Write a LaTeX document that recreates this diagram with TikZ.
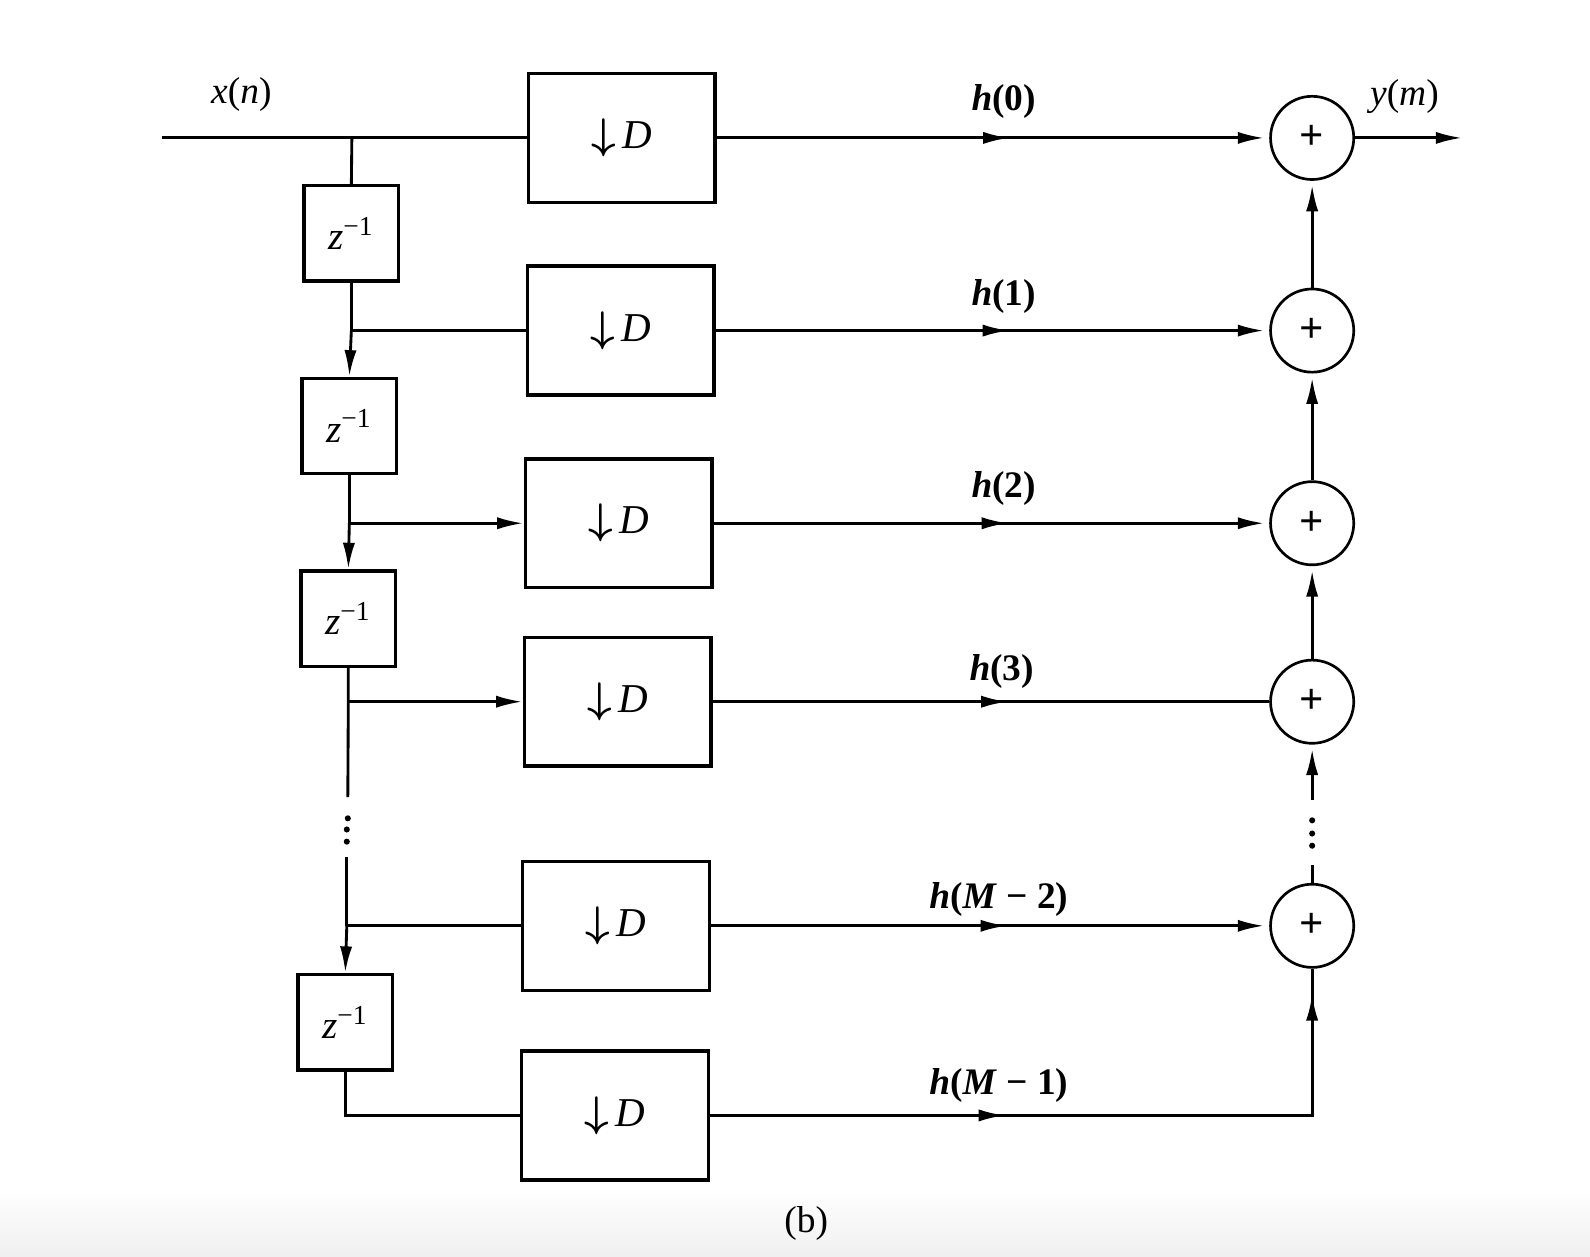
\documentclass[tikz,border=0pt]{standalone}
\usepackage{fontspec}
\setmainfont{Liberation Serif}
\usetikzlibrary{arrows.meta,decorations.markings}

\tikzset{
  wire/.style={line width=0.8pt},
  tipend/.style={-{Latex[length=2.6mm,width=1.2mm]}},
  dbox/.style={draw,line width=0.95pt,minimum width=1.84cm,minimum height=1.27cm,
    inner sep=0pt,font=\fontsize{11.5}{13}\selectfont},
  zbox/.style={draw,line width=0.95pt,minimum width=0.93cm,minimum height=0.94cm,
    inner sep=0pt,font=\fontsize{11}{13}\selectfont},
  adder/.style={draw,circle,line width=0.75pt,minimum size=0.82cm,inner sep=0pt,
    font=\fontsize{12}{12}\selectfont\bfseries},
  lbl/.style={font=\fontsize{10.5}{12}\selectfont},
  hlbl/.style={font=\fontsize{10.5}{12}\selectfont\bfseries},
  midtip/.style={postaction={decorate,decoration={markings,
    mark=at position #1 with {\arrow{Latex[length=2.6mm,width=1.2mm]}}}}},
  vdot/.style={fill,circle,inner sep=0pt,minimum size=0.6mm},
}
\newcommand{\decim}{{\boldmath$\downarrow$}\,\textit{D}}
\newcommand{\zinv}{\textit{z}\textsuperscript{−1}}

\begin{document}
\begin{tikzpicture}[x=0.01cm,y=-0.01cm]
\fill[white] (0,0) rectangle (1568,1239);
\useasboundingbox (0,0) rectangle (1568,1239);
\shade[top color=white,bottom color=black!6] (0,1172) rectangle (1568,1239);

% decimators
\node[dbox] (d1) at (613,136)    {\decim};
\node[dbox] (d2) at (612,326)    {\decim};
\node[dbox] (d3) at (610,516)    {\decim};
\node[dbox] (d4) at (609,692)    {\decim};
\node[dbox] (d5) at (607.5,913)  {\decim};
\node[dbox] (d6) at (606.5,1100) {\decim};

% unit delays
\node[zbox] (z1) at (346.5,230)  {\zinv};
\node[zbox] (z2) at (344.5,420)  {\zinv};
\node[zbox] (z3) at (343.5,610)  {\zinv};
\node[zbox] (z4) at (340.5,1008) {\zinv};

% adders
\node[adder] (a1) at (1294,136) {+};
\node[adder] (a2) at (1294,326) {+};
\node[adder] (a3) at (1294,516) {+};
\node[adder] (a4) at (1294,692) {+};
\node[adder] (a5) at (1294,913) {+};

% branch points and free ends
\coordinate (xin) at (160,136);
\coordinate (b1) at (347,136);
\coordinate (b2) at (z1.south |- d2.west);
\coordinate (b3) at (z2.south |- d3.west);
\coordinate (b4) at (z3.south |- d4.west);
\coordinate (c1) at (343,786);
\coordinate (c2) at (342,845);
\coordinate (b5) at (342,913);
\coordinate (b6) at (z4.south |- d6.west);
\coordinate (c3) at (1294,853);
\coordinate (c4) at (1294,789);
\coordinate (yout) at (1442,136);

% tapped delay line
\draw[wire] (xin) -- (d1.west);
\draw[wire] (b1) -- (z1.north);
\draw[wire] (z1.south) -- (b2);
\draw[wire,tipend] (b2) -- (z2.north);
\draw[wire] (b2) -- (d2.west);
\draw[wire] (z2.south) -- (b3);
\draw[wire,tipend] (b3) -- (z3.north);
\draw[wire,tipend] (b3) -- (d3.west);
\draw[wire] (z3.south) -- (b4) -- (c1);
\draw[wire,tipend] (b4) -- (d4.west);
\node[vdot] (l1) at (343,807) {};
\node[vdot] (l2) at (342,818) {};
\node[vdot] (l3) at (342,830) {};
\draw[wire] (c2) -- (b5);
\draw[wire,tipend] (b5) -- (z4.north);
\draw[wire] (b5) -- (d5.west);
\draw[wire] (z4.south) -- (b6) -- (d6.west);

% weighted branches into the adder chain
\draw[wire,midtip=0.53,tipend,shorten >=0.5mm] (d1.east) -- (a1.west);
\draw[wire,midtip=0.53,tipend,shorten >=0.5mm] (d2.east) -- (a2.west);
\draw[wire,midtip=0.53,tipend,shorten >=0.5mm] (d3.east) -- (a3.west);
\draw[wire,midtip=0.53] (d4.east) -- (a4.west);
\draw[wire,midtip=0.53,tipend,shorten >=0.5mm] (d5.east) -- (a5.west);
\draw[wire,midtip=0.394,midtip=0.966] (d6.east) -- (a5.south |- d6.east) -- (a5.south);

% adder chain
\draw[wire,tipend,shorten >=0.4mm] (a2.north) -- (a1.south);
\draw[wire,tipend,shorten >=0.4mm] (a3.north) -- (a2.south);
\draw[wire,tipend,shorten >=0.4mm] (a4.north) -- (a3.south);
\draw[wire] (a5.north) -- (c3);
\node[vdot] (r1) at (1294,809) {};
\node[vdot] (r2) at (1294,822) {};
\node[vdot] (r3) at (1294,834) {};
\draw[wire,tipend,shorten >=0.4mm] (c4) -- (a4.south);
\draw[wire,tipend] (a1.east) -- (yout);

% labels
\node[lbl] (xlab) at (238,93) {\textit{x}(\textit{n})};
\node[lbl] (ylab) at (1385,95) {\textit{y}(\textit{m})};
\node[hlbl] (h0) at (990,100) {\textit{h}(0)};
\node[hlbl] (h1) at (990,292) {\textit{h}(1)};
\node[hlbl] (h2) at (990,482) {\textit{h}(2)};
\node[hlbl] (h3) at (988,662) {\textit{h}(3)};
\node[hlbl] (h4) at (985,887) {\textit{h}(\textit{M} − 2)};
\node[hlbl] (h5) at (985,1070) {\textit{h}(\textit{M} − 1)};
\node[lbl] (cap) at (795,1207) {(b)};
\end{tikzpicture}
\end{document}
